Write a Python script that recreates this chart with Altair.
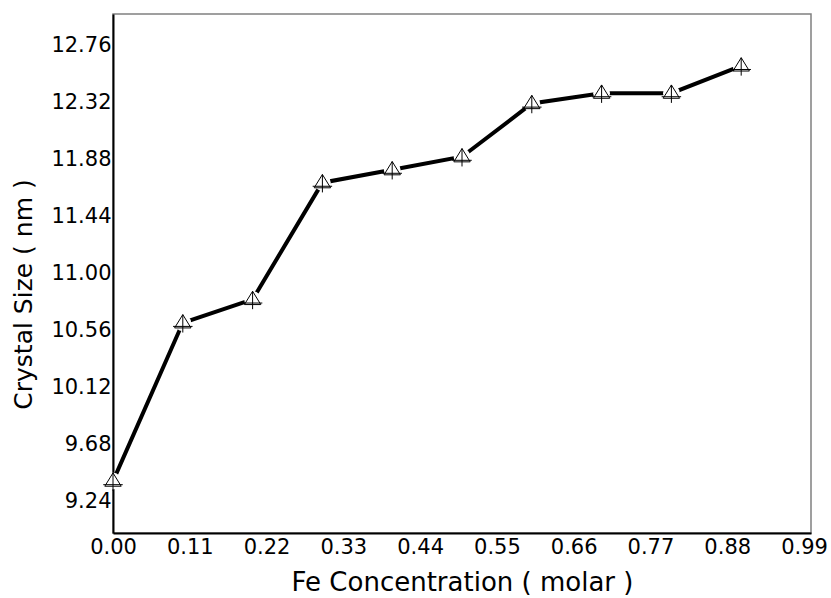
import altair as alt
import pandas as pd

fe_conc = [0.0, 0.1, 0.2, 0.3, 0.4, 0.5, 0.6, 0.7, 0.8, 0.9]
crystal_size = [9.40, 10.62, 10.80, 11.70, 11.80, 11.90, 12.31, 12.39, 12.39, 12.60]
x_ticks = [0.00, 0.11, 0.22, 0.33, 0.44, 0.55, 0.66, 0.77, 0.88, 0.99]
y_ticks = [9.24, 9.68, 10.12, 10.56, 11.00, 11.44, 11.88, 12.32, 12.76]

df = pd.DataFrame({"x": fe_conc, "y": crystal_size})

FONT = "DejaVu Sans"

x_enc = alt.X(
    "x:Q",
    scale=alt.Scale(domain=[0, 1.0], nice=False, zero=False),
    axis=alt.Axis(
        values=x_ticks, format=".2f", title="Fe Concentration ( molar )",
        grid=False, ticks=False, domainColor="black", domainWidth=2,
        labelFont=FONT, labelFontSize=21, labelColor="black", labelPadding=3,
        labelFlush=False, labelOverlap=False,
        titleFont=FONT, titleFontSize=26, titleFontWeight="normal", titleColor="black",
        titleBaseline="alphabetic", titleY=57,
    ),
)
y_enc = alt.Y(
    "y:Q",
    scale=alt.Scale(domain=[9.0, 13.0], nice=False, zero=False),
    axis=alt.Axis(
        values=y_ticks, format=".2f", title="Crystal Size ( nm )",
        grid=False, ticks=False, domainColor="black", domainWidth=2,
        labelFont=FONT, labelFontSize=21, labelColor="black", labelPadding=2,
        labelFlush=False, labelOverlap=False,
        titleFont=FONT, titleFontSize=25, titleFontWeight="normal", titleColor="black",
        titleBaseline="alphabetic", titleX=-82, titleY=280, titleAngle=-90,
    ),
)

line = alt.Chart(df).mark_line(color="black", strokeWidth=4).encode(x=x_enc, y=y_enc)

halo = alt.Chart(df).mark_point(
    shape="circle", filled=True, color="white", opacity=1, size=280
).encode(x="x:Q", y="y:Q")

marker_path = "M0,-0.8L0.8,0.5L-0.8,0.5Z M0,-0.8L0,0.95 M-0.95,0.35L0.95,0.35"
markers = alt.Chart(df).mark_point(
    shape=marker_path, filled=False, stroke="black", strokeWidth=1, opacity=1, size=420
).encode(x="x:Q", y="y:Q")

chart = (
    alt.layer(line, halo, markers)
    .properties(
        width=698, height=519,
        autosize=alt.AutoSizeParams(type="none"),
        padding={"left": 113, "top": 14, "right": 20, "bottom": 65},
        background="white",
    )
    .configure_view(stroke="#808080", strokeWidth=1.5)
)

chart.save("out.html", embed_options={"renderer": "svg", "actions": False})
